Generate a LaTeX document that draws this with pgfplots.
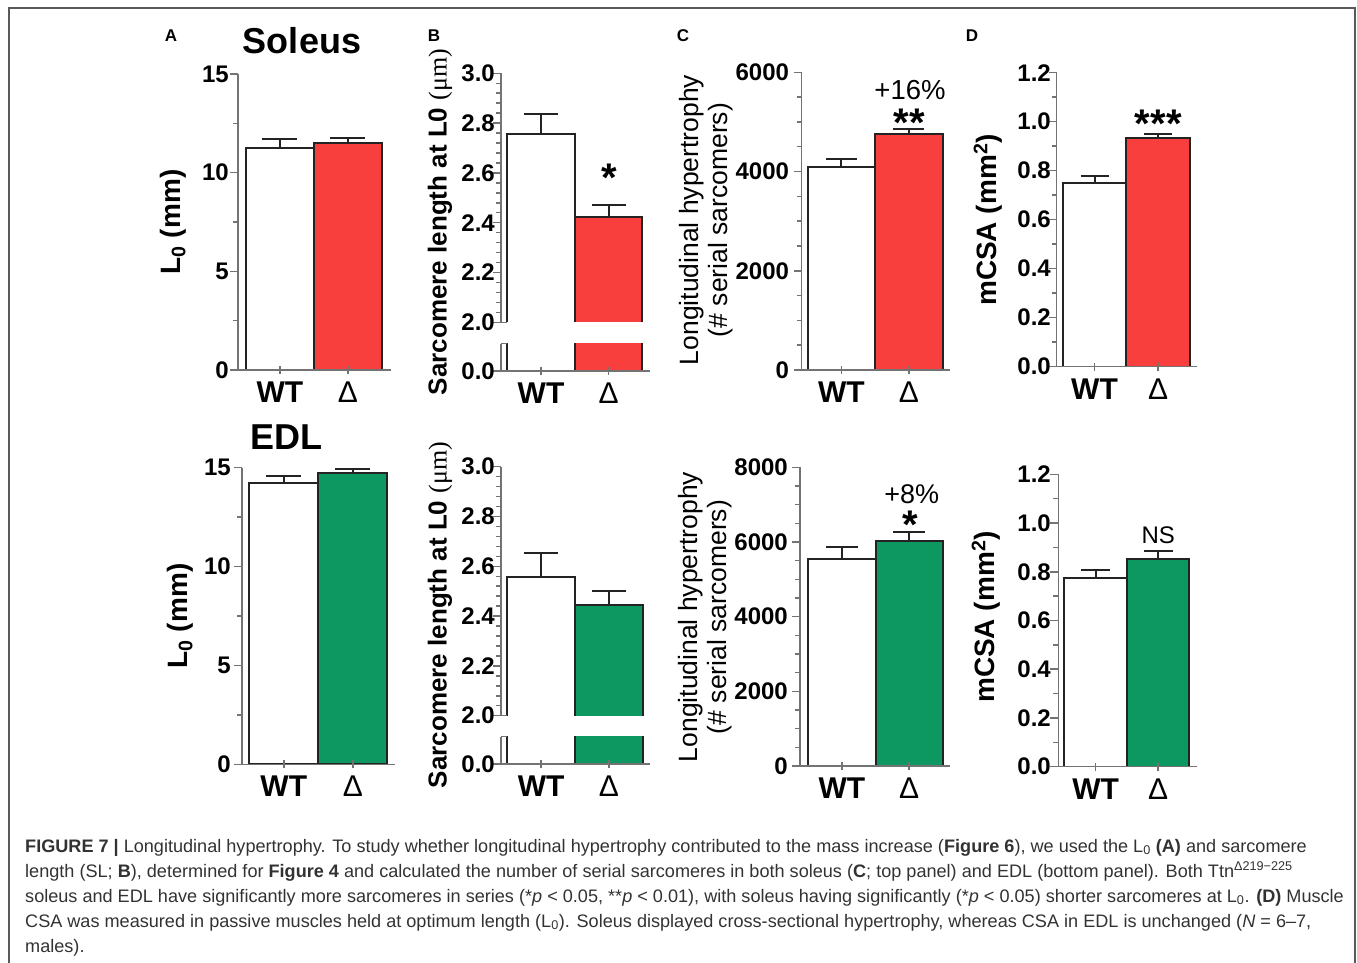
\documentclass[border=0pt]{standalone}
\usepackage{fontspec}
\setmainfont{Liberation Sans}
\newfontfamily\seriffont{Liberation Serif}
\usepackage{pgfplots}
\pgfplotsset{compat=1.18}
\definecolor{myred}{RGB}{249,62,62}
\definecolor{mygreen}{RGB}{12,152,96}
\definecolor{axgray}{RGB}{115,115,115}
\definecolor{edge}{RGB}{35,35,35}
\definecolor{captxt}{RGB}{50,50,50}
\newcommand{\fsz}[1]{\fontsize{#1}{#1}\selectfont}
\pgfplotsset{
  common/.style={
    scale only axis, anchor=south west, axis on top,
    axis y line=left,
    axis line style={-, axgray, line width=1.5pt},
    tick style={axgray, line width=1.5pt},
    major tick length=8pt, minor tick length=5pt,
    ytick align=outside, xtick align=inside,
    yticklabel style={font=\bfseries\fsz{24}, anchor=east, inner sep=0pt},
  },
  panel/.style={
    common, axis x line=bottom,
    x axis line style={-}, y axis line style={-},
    xtick={0,1}, xticklabels={\textbf{WT},Δ},
    xticklabel style={font=\fsz{30}, anchor=base, yshift=-28.5pt, inner sep=0pt},
    ymin=0,
  },
  upper/.style={common, axis x line=none, y axis line style={-}},
  wtbar/.style={ybar, bar width=1, bar shift=0, fill=white, draw=edge, line width=2pt,
    error bars/.cd, y dir=plus, y explicit, error bar style={line width=2pt, draw=edge},
    error mark options={rotate=90, line width=2pt, draw=edge, mark size=#1}},
  dbar/.style 2 args={ybar, bar width=1, bar shift=0, fill=#1, draw=edge, line width=2pt,
    error bars/.cd, y dir=plus, y explicit, error bar style={line width=2pt, draw=edge},
    error mark options={rotate=90, line width=2pt, draw=edge, mark size=#2}},
  wtfill/.style={ybar, bar width=1, bar shift=0, fill=white, draw=none,
    error bars/.cd, y dir=plus, y explicit, error bar style={line width=2pt, draw=edge},
    error mark options={rotate=90, line width=2pt, draw=edge, mark size=#1}},
  dfill/.style 2 args={ybar, bar width=1, bar shift=0, fill=#1, draw=none,
    error bars/.cd, y dir=plus, y explicit, error bar style={line width=2pt, draw=edge},
    error mark options={rotate=90, line width=2pt, draw=edge, mark size=#2}},
  outline/.style={edge, line width=2pt, no marks, line join=miter},
}
\begin{document}
\begin{tikzpicture}
\path[use as bounding box] (0,0) rectangle (1357pt,-963pt);
\draw[color=black!65, line width=2pt] (8.5pt,-963pt) -- (8.5pt,-8.5pt) -- (1355pt,-8.5pt) -- (1355pt,-963pt);

% ---------- A top ----------
\begin{axis}[panel, at={(238pt,-370pt)}, width=153pt, height=296pt,
  xmin=-0.6176, xmax=1.6324, ymax=15, ytick={0,5,10,15}, yticklabels={0,5,10,15}, minor y tick num=1,
  yticklabel style={xshift=-1pt}]
\addplot[wtbar=17.5pt] coordinates {(0,11.27) +- (0,0.44)};
\addplot[dbar={myred}{17.5pt}] coordinates {(1,11.52) +- (0,0.22)};
\end{axis}
% ---------- A bottom ----------
\begin{axis}[panel, at={(242pt,-764.3pt)}, width=153pt, height=296.6pt,
  xmin=-0.606, xmax=1.612, ymax=15, ytick={0,5,10,15}, yticklabels={0,5,10,15}, minor y tick num=1,
  yticklabel style={xshift=-3pt}]
\addplot[wtbar=17.5pt] coordinates {(0,14.24) +- (0,0.34)};
\addplot[dbar={mygreen}{17.5pt}] coordinates {(1,14.72) +- (0,0.21)};
\end{axis}

% ---------- B top ----------
\begin{axis}[upper, at={(501pt,-322.3pt)}, width=149pt, height=249pt,
  xmin=-0.593, xmax=1.614, ymin=2, ymax=3, ytick={2,2.2,2.4,2.6,2.8,3}, yticklabels={2.0,2.2,2.4,2.6,2.8,3.0},
  minor y tick num=4, yticklabel style={xshift=2pt}]
\addplot[wtfill=17pt] coordinates {(0,2.756) +- (0,0.079)};
\addplot[dfill={myred}{17pt}] coordinates {(1,2.424) +- (0,0.047)};
\addplot[outline] coordinates {(-0.5,2) (-0.5,2.756) (0.5,2.756) (0.5,2)};
\addplot[outline] coordinates {(0.5,2.424) (1.5,2.424) (1.5,2)};
\draw[axgray, line width=1.5pt] (rel axis cs:0,0) -- (axis cs:-0.5,2);
\end{axis}
\begin{axis}[panel, at={(501pt,-371pt)}, width=149pt, height=27.4pt,
  xmin=-0.593, xmax=1.614, ymin=0, ymax=0.11, ytick={0}, yticklabels={0.0}, yticklabel style={xshift=2pt}]
\addplot[wtbar=17pt] coordinates {(0,2.756) +- (0,0.079)};
\addplot[dbar={myred}{17pt}] coordinates {(1,2.424) +- (0,0.047)};
\draw[axgray, line width=1.5pt] (rel axis cs:0,1) -- (axis cs:-0.5,0.11);
\end{axis}
% ---------- B bottom ----------
\begin{axis}[upper, at={(501pt,-715.7pt)}, width=149pt, height=249pt,
  xmin=-0.593, xmax=1.608, ymin=2, ymax=3, ytick={2,2.2,2.4,2.6,2.8,3}, yticklabels={2.0,2.2,2.4,2.6,2.8,3.0},
  minor y tick num=4, yticklabel style={xshift=2pt}]
\addplot[wtfill=17pt] coordinates {(0,2.558) +- (0,0.097)};
\addplot[dfill={mygreen}{17pt}] coordinates {(1,2.443) +- (0,0.059)};
\addplot[outline] coordinates {(-0.5,2) (-0.5,2.558) (0.5,2.558) (0.5,2)};
\addplot[outline] coordinates {(0.5,2.443) (1.5,2.443) (1.5,2)};
\draw[axgray, line width=1.5pt] (rel axis cs:0,0) -- (axis cs:-0.5,2);
\end{axis}
\begin{axis}[panel, at={(501pt,-764pt)}, width=149pt, height=27.4pt,
  xmin=-0.593, xmax=1.608, ymin=0, ymax=0.11, ytick={0}, yticklabels={0.0}, yticklabel style={xshift=2pt}]
\addplot[wtbar=17pt] coordinates {(0,2.558) +- (0,0.097)};
\addplot[dbar={mygreen}{17pt}] coordinates {(1,2.443) +- (0,0.059)};
\draw[axgray, line width=1.5pt] (rel axis cs:0,1) -- (axis cs:-0.5,0.11);
\end{axis}

% ---------- C top ----------
\begin{axis}[panel, at={(801.7pt,-370pt)}, width=148.3pt, height=297.7pt,
  xmin=-0.589, xmax=1.608, ymax=6000, ytick={0,2000,4000,6000}, yticklabels={0,2000,4000,6000},
  minor y tick num=3, yticklabel style={xshift=-4.5pt}]
\addplot[wtbar=15.5pt] coordinates {(0,4098) +- (0,155)};
\addplot[dbar={myred}{15.5pt}] coordinates {(1,4757) +- (0,94)};
\end{axis}
% ---------- C bottom ----------
\begin{axis}[panel, at={(800pt,-766pt)}, width=150pt, height=298.7pt,
  xmin=-0.624, xmax=1.609, ymax=8000, ytick={0,2000,4000,6000,8000}, yticklabels={0,2000,4000,6000,8000},
  minor y tick num=3, yticklabel style={xshift=-4pt}]
\addplot[wtbar=16pt] coordinates {(0,5552) +- (0,322)};
\addplot[dbar={mygreen}{16pt}] coordinates {(1,6018) +- (0,249)};
\end{axis}

% ---------- D top ----------
\begin{axis}[panel, at={(1056.7pt,-366.7pt)}, width=140pt, height=294pt,
  xmin=-0.594, xmax=1.605, ymax=1.2, ytick={0,0.2,0.4,0.6,0.8,1.0,1.2}, yticklabels={0.0,0.2,0.4,0.6,0.8,1.0,1.2},
  minor y tick num=1, yticklabel style={xshift=2.3pt}]
\addplot[wtbar=14pt] coordinates {(0,0.751) +- (0,0.027)};
\addplot[dbar={myred}{14pt}] coordinates {(1,0.932) +- (0,0.017)};
\end{axis}
% ---------- D bottom ----------
\begin{axis}[panel, at={(1058.3pt,-766.7pt)}, width=138.7pt, height=292.4pt,
  xmin=-0.595, xmax=1.62, ymax=1.2, ytick={0,0.2,0.4,0.6,0.8,1.0,1.2}, yticklabels={0.0,0.2,0.4,0.6,0.8,1.0,1.2},
  minor y tick num=1, yticklabel style={xshift=0.7pt}]
\addplot[wtbar=14.5pt] coordinates {(0,0.773) +- (0,0.035)};
\addplot[dbar={mygreen}{14.5pt}] coordinates {(1,0.853) +- (0,0.033)};
\end{axis}

% ---------- titles, panel letters ----------
\node[font=\bfseries\fsz{17}] at (171pt,-36pt) {A};
\node[font=\bfseries\fsz{17}] at (434pt,-36pt) {B};
\node[font=\bfseries\fsz{17}] at (683pt,-36pt) {C};
\node[font=\bfseries\fsz{17}] at (972pt,-36pt) {D};
\node[font=\bfseries\fsz{36}, anchor=base] at (302pt,-54pt) {Soleus};
\node[font=\bfseries\fsz{36}, anchor=base] at (286.7pt,-449.6pt) {EDL};

% ---------- y labels ----------
\node[rotate=90, font=\bfseries\fsz{28}] at (173pt,-222pt) {L\textsubscript{0} (mm)};
\node[rotate=90, font=\bfseries\fsz{28}] at (180pt,-616pt) {L\textsubscript{0} (mm)};
\node[rotate=90, font=\bfseries\fsz{26}] at (440pt,-222pt) {Sarcomere length at L0 {\mdseries\seriffont (μm)}};
\node[rotate=90, font=\bfseries\fsz{26}] at (440pt,-615pt) {Sarcomere length at L0 {\mdseries\seriffont (μm)}};
\node[rotate=90, align=center, font=\fontsize{26.5}{28.5}\selectfont] at (706pt,-220pt) {Longitudinal hypertrophy\\(\# serial sarcomers)};
\node[rotate=90, align=center, font=\fontsize{26.5}{28.5}\selectfont] at (705pt,-617pt) {Longitudinal hypertrophy\\(\# serial sarcomers)};
\node[rotate=90, font=\bfseries\fsz{28}] at (988pt,-220pt) {mCSA (mm\textsuperscript{2})};
\node[rotate=90, font=\bfseries\fsz{28}] at (986pt,-617pt) {mCSA (mm\textsuperscript{2})};

% ---------- significance ----------
\node[font=\bfseries\fsz{40}, anchor=base, inner sep=0pt] at (609pt,-191.5pt) {*};
\node[font=\fsz{27.5}, anchor=base, inner sep=0pt] at (910pt,-99.7pt) {+16\%};
\node[font=\bfseries\fsz{40}, anchor=base, inner sep=0pt] at (909.3pt,-136.3pt) {**};
\node[font=\bfseries\fsz{40}, anchor=base, inner sep=0pt] at (1158.3pt,-137.5pt) {***};
\node[font=\fsz{27}, anchor=base, inner sep=0pt] at (911.7pt,-503pt) {+8\%};
\node[font=\bfseries\fsz{40}, anchor=base, inner sep=0pt] at (910pt,-538.5pt) {*};
\node[font=\fsz{24}, anchor=base, inner sep=0pt] at (1158.3pt,-543.6pt) {NS};

% ---------- caption ----------
\begin{scope}[every node/.style={anchor=base west, inner sep=0pt, text=captxt, font=\fsz{18.1}}]
\node at (25pt,-852pt) {\textbf{FIGURE 7 |} Longitudinal hypertrophy. To study whether longitudinal hypertrophy contributed to the mass increase (\textbf{Figure 6}), we used the L\textsubscript{0} \textbf{(A)} and sarcomere};
\node at (25pt,-877pt) {length (SL; \textbf{B}), determined for \textbf{Figure 4} and calculated the number of serial sarcomeres in both soleus (\textbf{C}; top panel) and EDL (bottom panel). Both Ttn\textsuperscript{Δ219−225}};
\node at (25pt,-902pt) {soleus and EDL have significantly more sarcomeres in series (*\textit{p} < 0.05, **\textit{p} < 0.01), with soleus having significantly (*\textit{p} < 0.05) shorter sarcomeres at L\textsubscript{0}. \textbf{(D)} Muscle};
\node at (25pt,-927pt) {CSA was measured in passive muscles held at optimum length (L\textsubscript{0}). Soleus displayed cross-sectional hypertrophy, whereas CSA in EDL is unchanged (\textit{N} = 6–7,};
\node at (25pt,-952pt) {males).};
\end{scope}
\end{tikzpicture}
\end{document}
